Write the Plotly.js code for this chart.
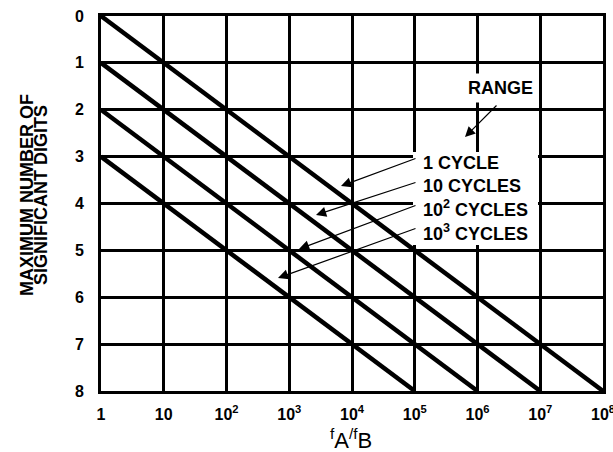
<!DOCTYPE html>
<html>
<head>
<meta charset="utf-8">
<script src="https://cdn.plot.ly/plotly-3.0.1.min.js"></script>
<style>html,body{margin:0;padding:0;background:#fff;}#chart{width:613px;height:452px;}</style>
</head>
<body>
<div id="chart"></div>
<script>
// ---- data ----
const cycleNames = ['1 CYCLE', '10 CYCLES', '10<sup>2</sup> CYCLES', '10<sup>3</sup> CYCLES'];
const lineX = [[1, 1e8], [1, 1e7], [1, 1e6], [1, 1e5]];
const lineY = [[0, 8], [1, 8], [2, 8], [3, 8]];
const xTickVals = [1, 10, 1e2, 1e3, 1e4, 1e5, 1e6, 1e7, 1e8];
const xTickText = ['1', '10', '10<sup>2</sup>', '10<sup>3</sup>', '10<sup>4</sup>', '10<sup>5</sup>', '10<sup>6</sup>', '10<sup>7</sup>', '10<sup>8</sup>'];
const yTickVals = [0, 1, 2, 3, 4, 5, 6, 7, 8];
const yTitleLines = ['MAXIMUM NUMBER OF', 'SIGNIFICANT DIGITS'];
const xTitle = '<sup>f</sup>A<sup>/f</sup>B';
const rangeLabel = 'RANGE';

// ---- layout helpers (pixel -> paper) ----
const W = 613, H = 452, L = 101, R = 10, T = 16, B = 61;
const PW = W - L - R, PH = H - T - B;
const px = v => (v - L) / PW;
const py = v => (H - B - v) / PH;
const FONT = 'Liberation Sans, Arial, sans-serif';

const traces = lineX.map((xs, i) => ({
  x: xs, y: lineY[i], type: 'scatter', mode: 'lines',
  line: {color: '#000', width: 4.5}, hoverinfo: 'skip', showlegend: false,
  name: cycleNames[i].replace(/<\/?sup>/g, '')
}));

const labelY = [163, 186, 209, 232];
const arrowTail = [[417, 158], [417, 182], [417, 205], [417, 228]];
const arrowHead = [[341, 186], [316, 215], [299, 249], [278, 278]];

const annotations = [];
// white box behind the cycle labels (covers gridlines)
annotations.push({xref: 'paper', yref: 'paper', x: px(412.5), y: py(198.5), xanchor: 'left', yanchor: 'middle',
  text: ' ', width: 124.5, height: 93, bgcolor: '#fff', borderpad: 0, borderwidth: 0, showarrow: false,
  font: {family: FONT, size: 10, color: '#fff'}});
cycleNames.forEach((t, i) => {
  annotations.push({xref: 'paper', yref: 'paper', x: px(421), y: py(labelY[i]),
    xanchor: 'left', yanchor: 'middle', text: t, showarrow: false,
    font: {family: FONT, size: 18, weight: 'bold', color: '#000'}});
  annotations.push({xref: 'paper', yref: 'paper', x: px(arrowHead[i][0]), y: py(arrowHead[i][1]),
    ax: arrowTail[i][0] - arrowHead[i][0], ay: arrowTail[i][1] - arrowHead[i][1],
    text: '', showarrow: true, arrowhead: 2, arrowsize: 1.7, arrowwidth: 1.2, arrowcolor: '#000', standoff: 0});
});
annotations.push({xref: 'paper', yref: 'paper', x: px(500), y: py(88), xanchor: 'center', yanchor: 'middle',
  text: rangeLabel, showarrow: false, bgcolor: '#fff', borderpad: 4,
  font: {family: FONT, size: 18, weight: 'bold', color: '#000'}});
annotations.push({xref: 'paper', yref: 'paper', x: px(465), y: py(137),
  ax: 498 - 465, ay: 104 - 137, text: '', showarrow: true, arrowhead: 2, arrowsize: 1.7,
  arrowwidth: 1.2, arrowcolor: '#000', standoff: 0});
yTitleLines.forEach((t, i) => {
  annotations.push({xref: 'paper', yref: 'paper', x: px([27, 41][i]), y: py(195),
    xanchor: 'center', yanchor: 'middle', textangle: -90, text: t, showarrow: false,
    font: {family: FONT, size: 18, weight: 'bold', color: '#000'}});
});
annotations.push({xref: 'paper', yref: 'paper', x: px(351), y: py(439), xanchor: 'center', yanchor: 'middle',
  text: xTitle, showarrow: false, font: {family: FONT, size: 22, color: '#000'}});

const layout = {
  width: W, height: H,
  margin: {l: L, r: R, t: T, b: B, pad: 0},
  paper_bgcolor: '#fff', plot_bgcolor: '#fff',
  showlegend: false,
  xaxis: {type: 'log', range: [0, 8], tickvals: xTickVals, ticktext: xTickText,
    showgrid: true, gridcolor: '#000', gridwidth: 3,
    showline: true, linecolor: '#000', linewidth: 3, mirror: true,
    ticks: '', ticklabelstandoff: 7, ticklabeloverflow: 'allow', zeroline: false,
    tickfont: {family: FONT, size: 16, weight: 'bold', color: '#000'}},
  yaxis: {range: [8, 0], tickvals: yTickVals, showgrid: true, gridcolor: '#000', gridwidth: 3,
    showline: true, linecolor: '#000', linewidth: 3, mirror: true, zeroline: false,
    ticks: '', ticklabelstandoff: 11,
    tickfont: {family: FONT, size: 16, weight: 'bold', color: '#000'}},
  annotations: annotations
};

Plotly.newPlot('chart', traces, layout, {staticPlot: true, displayModeBar: false});
</script>
</body>
</html>
